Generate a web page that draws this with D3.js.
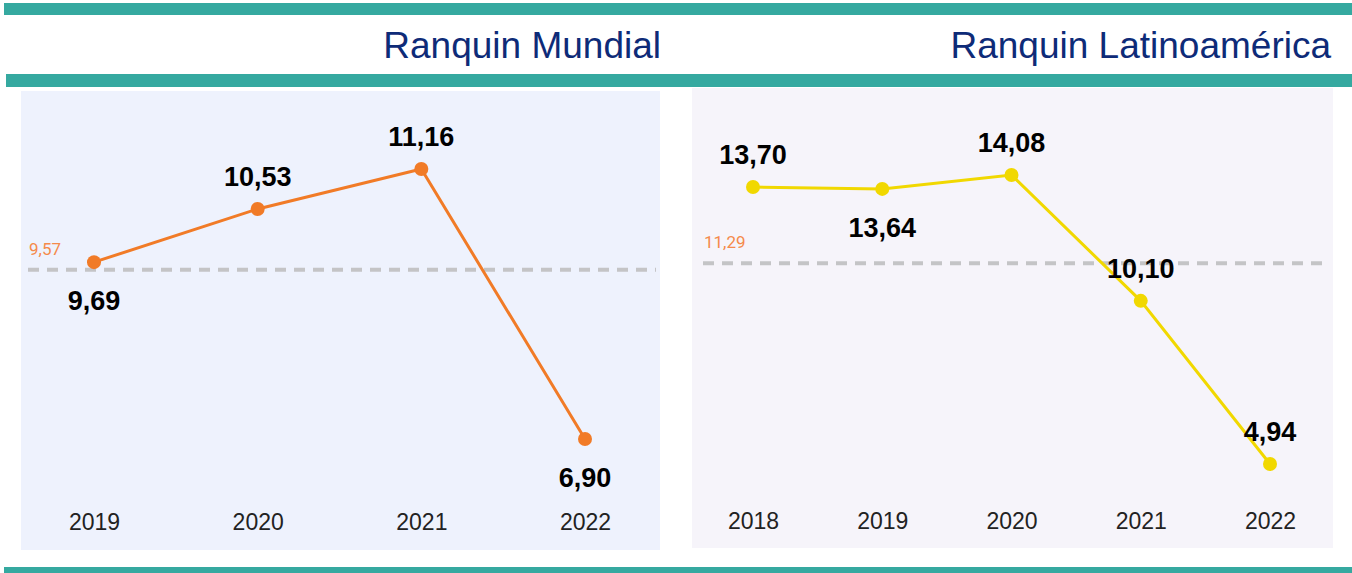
<!DOCTYPE html>
<html>
<head>
<meta charset="utf-8">
<script src="https://cdn.jsdelivr.net/npm/d3@7"></script>
<style>
  body { margin: 0; background: #fff; }
  svg { display: block; font-family: "Liberation Sans", Arial, sans-serif; }
</style>
</head>
<body>
<div id="chart"></div>
<script>
const w = 1352;
const h = 573;

// data
const mundialYears = ["2019", "2020", "2021", "2022"];
const mundialValues = [9.69, 10.53, 11.16, 6.90];
const mundialAvg = 9.57;
const mundialLabelPos = ["below", "above", "above", "below"];

const latamYears = ["2018", "2019", "2020", "2021", "2022"];
const latamValues = [13.70, 13.64, 14.08, 10.10, 4.94];
const latamAvg = 11.29;
const latamLabelPos = ["above", "below", "above", "above", "above"];

const titles = ["Ranquin Mundial", "Ranquin Latinoamérica"];

const teal = "#35a9a0";
const fmt = v => v.toFixed(2).replace(".", ",");

var svg = d3.select("#chart")
            .append("svg")
            .attr("width", w)
            .attr("height", h);

// teal bars
svg.append("rect").attr("x", 4).attr("y", 3).attr("width", w - 4).attr("height", 12).attr("fill", teal);
svg.append("rect").attr("x", 6).attr("y", 74).attr("width", w - 6).attr("height", 13).attr("fill", teal);
svg.append("rect").attr("x", 4).attr("y", 567).attr("width", w - 4).attr("height", 6).attr("fill", teal);

// titles
svg.append("text").attr("x", 661).attr("y", 58).attr("text-anchor", "end")
   .attr("font-size", 37).attr("fill", "#0e2b78").text(titles[0]);
svg.append("text").attr("x", 1331).attr("y", 58).attr("text-anchor", "end")
   .attr("font-size", 37).attr("fill", "#0e2b78").text(titles[1]);

function drawPanel(opt) {
  var g = svg.append("g");
  g.append("rect")
   .attr("x", opt.x0).attr("y", opt.y0)
   .attr("width", opt.x1 - opt.x0).attr("height", opt.y1 - opt.y0)
   .attr("fill", opt.bg);

  var x = d3.scalePoint().domain(opt.years).range(opt.xRange);
  var y = d3.scaleLinear().domain(d3.extent(opt.values)).range(opt.yRange);

  // average line
  g.append("line")
   .attr("x1", opt.avgX[0]).attr("x2", opt.avgX[1])
   .attr("y1", y(opt.avg)).attr("y2", y(opt.avg))
   .attr("stroke", "#c4c4c6").attr("stroke-width", 4)
   .attr("stroke-dasharray", "11,8");
  g.append("text")
   .attr("x", opt.avgX[0] + 1).attr("y", y(opt.avg) - 15)
   .attr("font-family", "Roboto, 'Open Sans', sans-serif")
   .attr("font-size", 17).attr("fill", "#f58a4b")
   .text(fmt(opt.avg));

  var pts = opt.years.map((d, i) => ({ year: d, v: opt.values[i], pos: opt.pos[i] }));

  g.append("path")
   .datum(pts)
   .attr("fill", "none")
   .attr("stroke", opt.color)
   .attr("stroke-width", 3)
   .attr("d", d3.line().x(d => x(d.year)).y(d => y(d.v)));

  g.selectAll("circle")
   .data(pts)
   .enter()
   .append("circle")
   .attr("cx", d => x(d.year))
   .attr("cy", d => y(d.v))
   .attr("r", 7)
   .attr("fill", opt.color);

  g.selectAll(".val")
   .data(pts)
   .enter()
   .append("text")
   .attr("class", "val")
   .attr("x", d => x(d.year))
   .attr("y", d => d.pos === "above" ? y(d.v) - 23 : y(d.v) + 48)
   .attr("text-anchor", "middle")
   .attr("font-size", 27).attr("font-weight", "bold").attr("fill", "#000")
   .text(d => fmt(d.v));

  // x axis labels
  var ax = g.append("g")
            .attr("transform", "translate(0," + opt.axisY + ")")
            .call(d3.axisBottom(x).tickSize(0).tickPadding(0));
  ax.select(".domain").remove();
  ax.selectAll("text")
    .attr("font-family", "'Liberation Sans', Arial, sans-serif")
    .attr("font-size", 23).attr("fill", "#222")
    .attr("dy", 0);
}

drawPanel({
  x0: 21, x1: 660, y0: 91, y1: 550, bg: "#eef2fd",
  years: mundialYears, values: mundialValues, avg: mundialAvg, pos: mundialLabelPos,
  xRange: [94, 585], yRange: [439, 169], avgX: [28, 656],
  color: "#f17b27", axisY: 530
});

drawPanel({
  x0: 692, x1: 1333, y0: 88, y1: 548, bg: "#f6f4fa",
  years: latamYears, values: latamValues, avg: latamAvg, pos: latamLabelPos,
  xRange: [753, 1270], yRange: [464, 175], avgX: [703, 1324],
  color: "#f1d800", axisY: 529
});
</script>
</body>
</html>
